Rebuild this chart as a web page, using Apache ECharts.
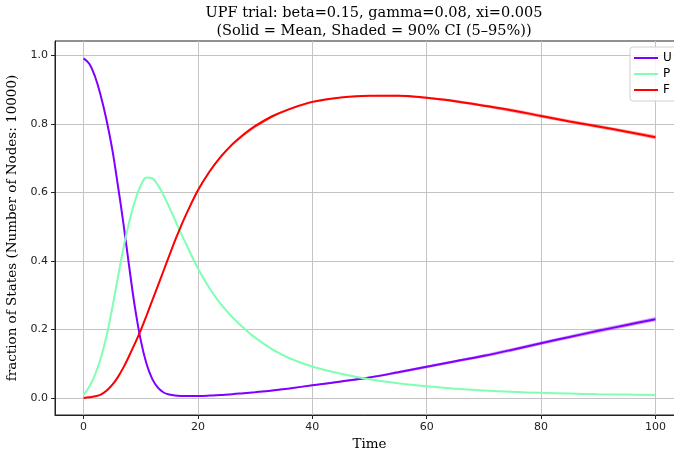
<!DOCTYPE html>
<html>
<head>
<meta charset="utf-8">
<script src="https://cdn.jsdelivr.net/npm/echarts@6/dist/echarts.min.js"></script>
<style>
  html, body { margin: 0; padding: 0; background: #fff; }
  #chart { width: 674px; height: 457px; }
</style>
</head>
<body>
<div id="chart"></div>
<script>
// Sample times of the simulation output
const times = [0, 1, 2, 3, 4, 5, 6, 7, 8, 9, 10, 11, 12, 13, 14, 15, 16, 17, 18,
  20, 22, 24, 26, 28, 30, 33, 36, 40, 45, 50, 55, 60, 65, 70, 75, 80, 85, 90, 95, 100];

// Mean fraction of nodes in each state
const uMean = [0.991, 0.975, 0.938, 0.882, 0.812, 0.727, 0.620, 0.505, 0.380, 0.262, 0.168, 0.100, 0.056, 0.030, 0.016, 0.010, 0.007, 0.006, 0.006,
  0.006, 0.007, 0.009, 0.011, 0.014, 0.017, 0.022, 0.028, 0.037, 0.048, 0.060, 0.075, 0.091, 0.107, 0.123, 0.141, 0.160, 0.178, 0.196, 0.213, 0.230];
const pMean = [0.010, 0.033, 0.068, 0.116, 0.180, 0.262, 0.352, 0.440, 0.515, 0.576, 0.620, 0.643, 0.641, 0.621, 0.591, 0.556, 0.519, 0.482, 0.447,
  0.378, 0.321, 0.274, 0.236, 0.204, 0.176, 0.142, 0.116, 0.092, 0.071, 0.055, 0.043, 0.034, 0.027, 0.022, 0.018, 0.015, 0.013, 0.011, 0.010, 0.009];
const fMean = [0.000, 0.002, 0.005, 0.010, 0.021, 0.038, 0.061, 0.090, 0.124, 0.160, 0.198, 0.240, 0.284, 0.328, 0.372, 0.416, 0.460, 0.500, 0.538,
  0.606, 0.660, 0.704, 0.740, 0.769, 0.793, 0.822, 0.843, 0.864, 0.877, 0.882, 0.882, 0.876, 0.866, 0.853, 0.839, 0.823, 0.807, 0.792, 0.777, 0.761];

// Half-width of the 5-95% band around each mean
const uHalf = [0, 0.001, 0.002, 0.003, 0.003, 0.004, 0.004, 0.004, 0.004, 0.003, 0.003, 0.002, 0.002, 0.001, 0.001, 0.001, 0.001, 0.001, 0.001,
  0.001, 0.001, 0.001, 0.001, 0.001, 0.002, 0.002, 0.002, 0.002, 0.003, 0.003, 0.004, 0.004, 0.004, 0.005, 0.005, 0.005, 0.005, 0.006, 0.006, 0.006];
const pHalf = [0, 0.001, 0.001, 0.002, 0.002, 0.003, 0.003, 0.003, 0.003, 0.003, 0.002, 0.002, 0.002, 0.002, 0.002, 0.002, 0.002, 0.002, 0.002,
  0.002, 0.002, 0.002, 0.002, 0.002, 0.002, 0.002, 0.001, 0.001, 0.001, 0.001, 0.001, 0.001, 0.001, 0.001, 0.001, 0.001, 0.001, 0.001, 0.001, 0.001];
const fHalf = [0, 0.001, 0.001, 0.002, 0.002, 0.003, 0.003, 0.003, 0.003, 0.003, 0.003, 0.003, 0.003, 0.003, 0.004, 0.004, 0.004, 0.004, 0.004,
  0.004, 0.004, 0.004, 0.005, 0.005, 0.005, 0.004, 0.003, 0.003, 0.002, 0.002, 0.003, 0.003, 0.004, 0.004, 0.005, 0.005, 0.005, 0.005, 0.005, 0.006];

// Axis ticks
const xTicks = [0, 20, 40, 60, 80, 100];
const yTicks = [0, 0.2, 0.4, 0.6, 0.8, 1.0];

const states = [
  { name: 'U', mean: uMean, half: uHalf, color: '#8000ff' },
  { name: 'P', mean: pMean, half: pHalf, color: '#80ffb4' },
  { name: 'F', mean: fMean, half: fHalf, color: '#ff0000' }
];

const chart = echarts.init(document.getElementById('chart'), null, { renderer: 'canvas' });

function bandSeries(s) {
  return {
    type: 'custom',
    name: s.name + ' band',
    coordinateSystem: 'cartesian2d',
    silent: true,
    clip: true,
    z: 1,
    data: [[times[0], s.mean[0]]],
    renderItem: function (params, api) {
      const upper = [], lower = [];
      for (let i = 0; i < times.length; i++) {
        upper.push(api.coord([times[i], s.mean[i] + s.half[i]]));
        lower.push(api.coord([times[i], s.mean[i] - s.half[i]]));
      }
      const pts = upper.concat(lower.reverse());
      return {
        type: 'polygon',
        shape: { points: pts },
        style: { fill: s.color, opacity: 0.35, stroke: null }
      };
    }
  };
}

function lineSeries(s) {
  return {
    type: 'line',
    name: s.name,
    data: times.map((t, i) => [t, s.mean[i]]),
    showSymbol: false,
    smooth: 0.4,
    z: 3,
    lineStyle: { color: s.color, width: 2 },
    itemStyle: { color: s.color }
  };
}

const serifFont = '"DejaVu Serif", "Liberation Serif", serif';
const sansFont = '"DejaVu Sans", "Liberation Sans", sans-serif';

const option = {
  animation: false,
  backgroundColor: '#fff',
  title: {
    text: 'UPF trial: beta=0.15, gamma=0.08, xi=0.005\n(Solid = Mean, Shaded = 90% CI (5–95%))',
    left: 369,
    top: -1,
    textAlign: 'center',
    textStyle: { fontFamily: serifFont, fontSize: 14.5, fontWeight: 'normal', color: '#000', lineHeight: 18 }
  },
  legend: {
    data: ['U', 'P', 'F'],
    orient: 'vertical',
    left: 630,
    top: 47,
    padding: [5, 6, 5, 4],
    itemWidth: 24,
    itemHeight: 2,
    itemGap: 4,
    icon: 'rect',
    backgroundColor: 'rgba(255,255,255,0.85)',
    borderColor: '#d0d0d0',
    borderWidth: 1,
    borderRadius: 3,
    textStyle: { fontFamily: sansFont, fontSize: 12, color: '#000', lineHeight: 12 }
  },
  grid: {
    left: 55, top: 41, width: 629, height: 374,
    outerBoundsMode: 'none',
    containLabel: false,
    show: true, borderColor: '#222', borderWidth: 1
  },
  xAxis: {
    type: 'value',
    min: -5, max: 105,
    name: 'Time',
    nameLocation: 'middle',
    nameGap: 22,
    nameTextStyle: { fontFamily: serifFont, fontSize: 13.5, color: '#000' },
    axisLine: { show: true, onZero: false, lineStyle: { color: '#222', width: 1 } },
    axisTick: { show: true, length: 4, lineStyle: { color: '#222' }, customValues: xTicks },
    axisLabel: { customValues: xTicks, margin: 7, fontFamily: sansFont, fontSize: 11, color: '#222' },
    splitLine: { show: true, lineStyle: { color: '#c4c4c4', width: 1 } }
  },
  yAxis: {
    type: 'value',
    min: -0.0496, max: 1.0416,
    name: 'fraction of States (Number of Nodes: 10000)',
    nameLocation: 'middle',
    nameGap: 30,
    nameRotate: 90,
    nameTextStyle: { fontFamily: serifFont, fontSize: 13.5, color: '#000' },
    axisLine: { show: true, onZero: false, lineStyle: { color: '#222', width: 1 } },
    axisTick: { show: true, length: 4, lineStyle: { color: '#222' }, customValues: yTicks },
    axisLabel: {
      customValues: yTicks, margin: 7, fontFamily: sansFont, fontSize: 11, color: '#222',
      formatter: v => v.toFixed(1)
    },
    splitLine: { show: true, lineStyle: { color: '#c4c4c4', width: 1 } }
  },
  series: states.map(bandSeries).concat(states.map(lineSeries))
};

chart.setOption(option);
</script>
</body>
</html>
